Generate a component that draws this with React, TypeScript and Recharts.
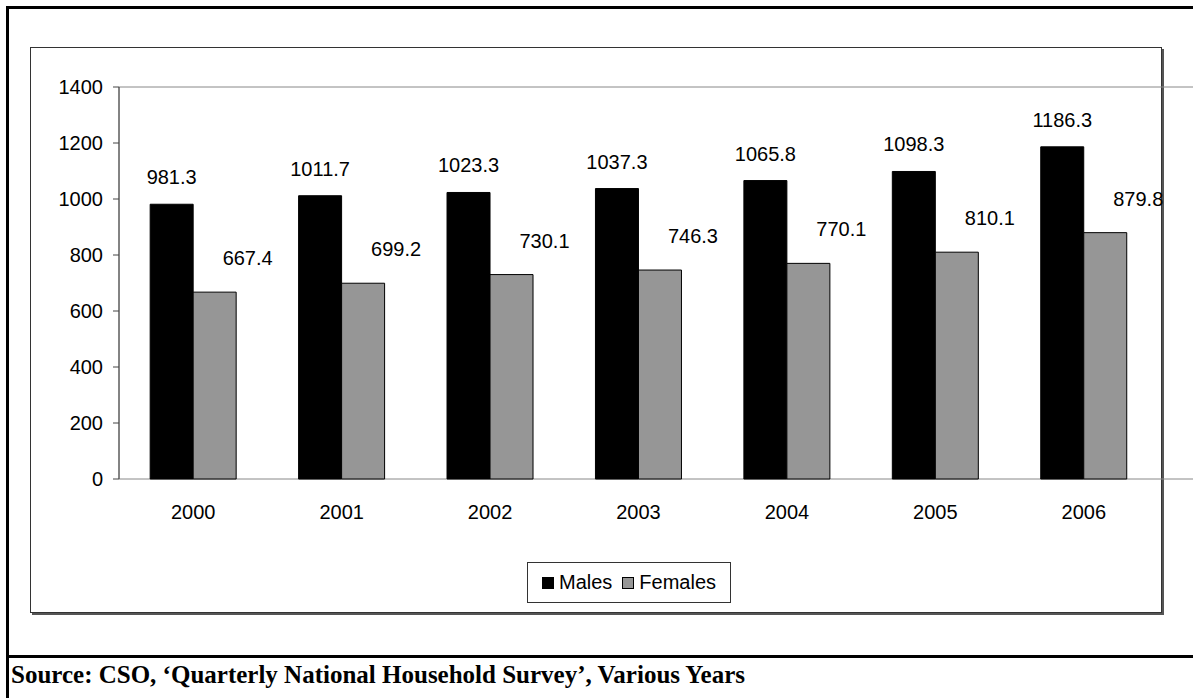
import React from 'react';
import { BarChart, Bar, XAxis, YAxis, LabelList, ReferenceArea } from 'recharts';

const years = ['2000', '2001', '2002', '2003', '2004', '2005', '2006'];
const males = [981.3, 1011.7, 1023.3, 1037.3, 1065.8, 1098.3, 1186.3];
const females = [667.4, 699.2, 730.1, 746.3, 770.1, 810.1, 879.8];
const yTicks = [0, 200, 400, 600, 800, 1000, 1200, 1400];
const boundTicks = [0, 1, 2, 3, 4, 5, 6, 7];
const seriesNames = ['Males', 'Females'];
const seriesColors = ['#000000', '#969696'];
const sourceNote = 'Source: CSO, \u2018Quarterly National Household Survey\u2019, Various Years';

const data = years.map((year, i) => ({ year, males: males[i], females: females[i] }));

const FONT = '"Liberation Sans", Arial, sans-serif';

const MaleLabel = (props: any) => {
  const { x, y, width, value } = props;
  return (
    <text x={x + width / 2} y={y - 20} textAnchor="middle" fontSize={20} fontFamily={FONT} fill="#000">
      {value}
    </text>
  );
};

const FemaleLabel = (props: any) => {
  const { x, y, width, value } = props;
  return (
    <text x={x + width / 2 + 33} y={y - 27} textAnchor="middle" fontSize={20} fontFamily={FONT} fill="#000">
      {value}
    </text>
  );
};

export default function App() {
  return (
    <div style={{ position: 'absolute', left: 0, top: 0, width: 1193, height: 698, background: '#fff', overflow: 'hidden' }}>
      {/* table frame */}
      <div style={{ position: 'absolute', left: 6, top: 6, width: 1200, height: 3, background: '#000' }} />
      <div style={{ position: 'absolute', left: 6, top: 6, width: 3, height: 700, background: '#000' }} />
      <div style={{ position: 'absolute', left: 6, top: 655, width: 1200, height: 3, background: '#000' }} />

      {/* chart area box */}
      <div
        style={{
          position: 'absolute',
          left: 30,
          top: 47,
          width: 1130,
          height: 564,
          border: '1px solid #333',
          boxShadow: '2px 2px 0 #555',
        }}
      />

      <div style={{ position: 'absolute', left: 0, top: 0 }}>
        <BarChart
          width={1193}
          height={698}
          data={data}
          margin={{ top: 87, right: 35, bottom: 179, left: 59 }}
          barCategoryGap="21%"
          barGap={0}
        >
          <ReferenceArea
            xAxisId="bounds"
            x1={0}
            x2={7}
            y1={0}
            y2={1400}
            fill="none"
            stroke="#888"
            strokeWidth={1}
            ifOverflow="visible"
          />
          <XAxis
            xAxisId="bounds"
            type="number"
            domain={[0, 7]}
            ticks={boundTicks}
            interval={0}
            height={0}
            tick={false}
            tickSize={6}
            tickLine={{ stroke: '#000' }}
            axisLine={{ stroke: '#000' }}
          />
          <XAxis
            dataKey="year"
            height={40}
            tickLine={false}
            axisLine={false}
            tickMargin={20}
            tick={{ fontSize: 20, fontFamily: FONT, fill: '#000' }}
            interval={0}
          />
          <YAxis
            domain={[0, 1400]}
            ticks={yTicks}
            interval={0}
            width={60}
            tickSize={6}
            tickMargin={10}
            tickLine={{ stroke: '#444' }}
            axisLine={{ stroke: '#444' }}
            tick={{ fontSize: 20, fontFamily: FONT, fill: '#000' }}
          />
          <Bar dataKey="males" fill={seriesColors[0]} stroke="#000" strokeWidth={1} isAnimationActive={false}>
            <LabelList dataKey="males" content={MaleLabel} />
          </Bar>
          <Bar dataKey="females" fill={seriesColors[1]} stroke="#000" strokeWidth={1} isAnimationActive={false}>
            <LabelList dataKey="females" content={FemaleLabel} />
          </Bar>
        </BarChart>
      </div>

      {/* legend */}
      <div
        style={{
          position: 'absolute',
          left: 527,
          top: 562,
          width: 204,
          height: 41,
          border: '1px solid #333',
          display: 'flex',
          alignItems: 'center',
          justifyContent: 'center',
          fontFamily: FONT,
          fontSize: 20,
          color: '#000',
          boxSizing: 'border-box',
        }}
      >
        {seriesNames.map((name, i) => (
          <span key={name} style={{ display: 'flex', alignItems: 'center', marginRight: i === 0 ? 10 : 0 }}>
            <span
              style={{
                display: 'inline-block',
                width: 12,
                height: 12,
                background: seriesColors[i],
                border: '1px solid #000',
                marginRight: 5,
                boxSizing: 'border-box',
              }}
            />
            {name}
          </span>
        ))}
      </div>

      <div
        style={{
          position: 'absolute',
          left: 11,
          top: 661,
          fontFamily: '"Liberation Serif", "Times New Roman", serif',
          fontWeight: 'bold',
          fontSize: 25,
          whiteSpace: 'nowrap',
          color: '#000',
        }}
      >
        {sourceNote}
      </div>
    </div>
  );
}
